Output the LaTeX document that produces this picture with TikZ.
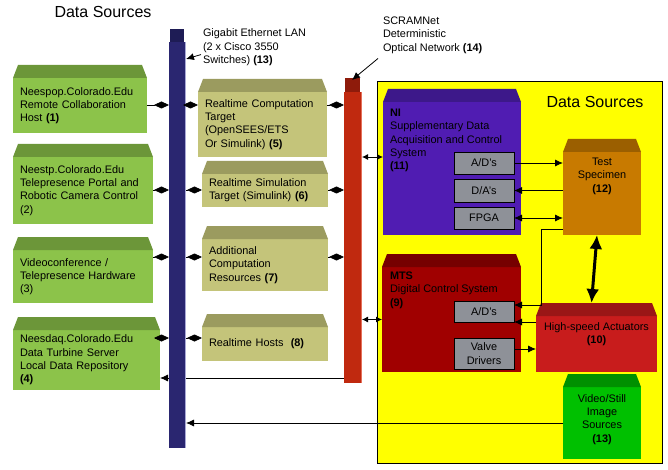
\documentclass[tikz,border=0pt]{standalone}
\usepackage{fontspec}
\setmainfont{Liberation Sans}
\usepackage{xcolor}
\usepackage{tikz}
\usetikzlibrary{arrows.meta,backgrounds}
\definecolor{HostGreen}{HTML}{8CC34A}
\definecolor{HostTop}{HTML}{6C9639}
\definecolor{SimOlive}{HTML}{C4C47A}
\definecolor{SimTop}{HTML}{9B9B5F}
\definecolor{LanBlue}{HTML}{2A2670}
\definecolor{LanTop}{HTML}{1E1C55}
\definecolor{LanEdge}{HTML}{A9A9D6}
\definecolor{ScramRed}{HTML}{C0290F}
\definecolor{ScramTop}{HTML}{8E1B0B}
\definecolor{ScramEdge}{HTML}{E5705A}
\definecolor{PanelYellow}{HTML}{FFFF00}
\definecolor{NiPurple}{HTML}{501CB2}
\definecolor{NiTop}{HTML}{3D188A}
\definecolor{ChanGray}{HTML}{8E9198}
\definecolor{SpecOrange}{HTML}{C87A00}
\definecolor{SpecTop}{HTML}{9B5F00}
\definecolor{MtsRed}{HTML}{A00000}
\definecolor{MtsTop}{HTML}{760000}
\definecolor{ActRed}{HTML}{C81C1C}
\definecolor{ActTop}{HTML}{9A1616}
\definecolor{VidGreen}{HTML}{00C000}
\definecolor{VidTop}{HTML}{009000}

% slanted top face above a box node
\newcommand{\topface}[2]{%
  \fill[#2] (#1.north west) -- ([shift={(5pt,13pt)}]#1.north west)
    -- ([shift={(-5pt,13pt)}]#1.north east) -- (#1.north east) -- cycle;}

\begin{document}
\begin{tikzpicture}[x=1pt,y=-1pt,
  txt/.style={font=\fontsize{10.9}{13.3}\selectfont},
  title/.style={font=\fontsize{16}{19}\selectfont},
  box/.style={txt,anchor=north west,inner sep=0pt,outer sep=0pt},
  host/.style={box,fill=HostGreen,align=left},
  sim/.style={box,fill=SimOlive,align=left},
  bar/.style={box,minimum height=#1},
  chan/.style={txt,draw=black,fill=ChanGray,line width=0.8pt,minimum width=60pt,inner sep=0pt,outer sep=0pt,align=center},
  arr/.style={-{Latex[length=8pt,width=7pt]},line width=0.8pt},
  arr2/.style={{Latex[length=8pt,width=7pt]}-{Latex[length=8pt,width=7pt]},line width=0.8pt},
  bus/.style={{Latex[length=6pt,width=6pt]}-{Latex[length=6pt,width=6pt]},line width=0.8pt},
  big/.style={{Latex[length=14pt,width=13pt]}-{Latex[length=14pt,width=13pt]},line width=3pt},
  link/.style={-{Diamond[length=15pt,width=7pt]},line width=0.8pt}]
  \useasboundingbox (0,0) rectangle (668,470);

  \node[title] (ds-left) at (103,12) {Data Sources};

  % left hosts
  \node[host,minimum width=134pt,minimum height=55pt,text width=120pt] (host1) at (13,78)
    {Neespop.Colorado.Edu\\Remote Collaboration\\Host \textbf{(1)}};
  \node[host,minimum width=140pt,minimum height=67pt,text width=126pt] (host2) at (13,157)
    {Neestp.Colorado.Edu\\Telepresence Portal and\\Robotic Camera Control\\(2)};
  \node[host,minimum width=140pt,minimum height=53pt,text width=126pt] (host3) at (13,250)
    {Videoconference /\\Telepresence Hardware\\(3)};
  \node[host,minimum width=147pt,minimum height=60pt,text width=133pt] (host4) at (13,330)
    {Neesdaq.Colorado.Edu\\Data Turbine Server\\Local Data Repository\\\textbf{(4)}};
  \topface{host1}{HostTop}
  \topface{host2}{HostTop}
  \topface{host3}{HostTop}
  \topface{host4}{HostTop}

  % realtime machines
  \node[sim,minimum width=129pt,minimum height=65pt,text width=115pt] (rt5) at (198,92)
    {Realtime Computation\\Target\\(OpenSEES/ETS\\Or Simulink) \textbf{(5)}};
  \node[sim,minimum width=126pt,minimum height=33pt,text width=112pt] (rt6) at (202,174)
    {Realtime Simulation\\Target (Simulink) \textbf{(6)}};
  \node[sim,minimum width=126pt,minimum height=52pt,text width=112pt] (rt7) at (202,239)
    {Additional\\Computation\\Resources \textbf{(7)}};
  \node[sim,minimum width=126pt,minimum height=34pt,text width=112pt] (rt8) at (202,327)
    {Realtime Hosts\ \ \textbf{(8)}};
  \topface{rt5}{SimTop}
  \topface{rt6}{SimTop}
  \topface{rt7}{SimTop}
  \topface{rt8}{SimTop}

  % yellow panel
  \node[box,draw=black,fill=PanelYellow,line width=0.8pt,minimum width=285pt,minimum height=382pt] (panel) at (377,81) {};
  \node[title] (ds-right) at (595,102) {Data Sources};

  \node[box,fill=NiPurple,minimum width=138pt,minimum height=133pt] (ni) at (383,102) {};
  \topface{ni}{NiTop}
  \node[box,align=left] (ni-text) at (390,109)
    {\textbf{NI}\\Supplementary Data\\Acquisition and Control\\System\\\textbf{(11)}};
  \node[chan,minimum height=22pt] (ad1) at (484,163) {A/D's};
  \node[chan,minimum height=23pt] (da1) at (484,190.5) {D/A's};
  \node[chan,minimum height=22pt] (fpga) at (484,218) {FPGA};

  \node[box,fill=SpecOrange,minimum width=78pt,minimum height=83pt] (test) at (563,152) {};
  \topface{test}{SpecTop}
  \node[txt,anchor=north,inner sep=0pt,align=center] (test-text) at ([yshift=-6pt]test.north)
    {Test\\Specimen\\\textbf{(12)}};

  \node[box,fill=MtsRed,minimum width=139pt,minimum height=105pt] (mts) at (382,267) {};
  \topface{mts}{MtsTop}
  \node[box,align=left] (mts-text) at (390,272)
    {\textbf{MTS}\\Digital Control System\\\textbf{(9)}};
  \node[chan,minimum height=21pt] (ad2) at (484,311.5) {A/D's};
  \node[chan,minimum height=31pt] (valve) at (484,353.5) {Valve\\Drivers};

  \node[box,fill=ActRed,minimum width=121pt,minimum height=56pt] (act) at (536,316) {};
  \topface{act}{ActTop}
  \node[txt,anchor=north,inner sep=0pt,align=center] (act-text) at ([yshift=-6pt]act.north)
    {High-speed Actuators\\\textbf{(10)}};

  \node[box,fill=VidGreen,minimum width=78pt,minimum height=72pt] (vid) at (563,387) {};
  \topface{vid}{VidTop}
  \node[txt,anchor=north,inner sep=0pt,align=center] (vid-text) at ([yshift=-7pt]vid.north)
    {Video/Still\\Image\\Sources\\\textbf{(13)}};

  % links inside the panel
  \draw[arr] (ad1.east) -- (ad1.east -| test.west);
  \draw[arr] (da1.east -| test.west) -- (da1.east);
  \draw[arr2] (fpga.east) -- (fpga.east -| test.west);
  \coordinate (bend) at (541,305);
  \draw[arr] ([yshift=6pt]test.south west) -| (bend) -- (bend -| ad2.east);
  \draw[arr] (ad2.south east -| act.west) -- (ad2.south east);
  \coordinate (vrow) at (0,349);
  \draw[arr] (valve.east |- vrow) -- (act.west |- vrow);
  \draw[big] ([xshift=-5pt]test.south) -- ([shift={(-5pt,13pt)}]act.north);

  % the two networks
  \node[bar=406pt,fill=LanBlue,minimum width=17pt] (lan) at (169,42) {};
  \fill[LanTop] ([xshift=1pt]lan.north west) rectangle ([shift={(-2pt,13pt)}]lan.north east);
  \draw[LanEdge,line width=1.2pt] ([xshift=-0.6pt]lan.north east) -- ([xshift=-0.6pt]lan.south east);
  \node[bar=291pt,fill=ScramRed,minimum width=18pt] (scram) at (344,92) {};
  \fill[ScramTop] ([xshift=1pt]scram.north west) rectangle ([shift={(-2pt,14pt)}]scram.north east);
  \draw[ScramEdge,line width=1.2pt] ([xshift=-0.6pt]scram.north east) -- ([xshift=-0.6pt]scram.south east);

  % long feeds back to the left
  \coordinate (reprow) at (0,378);
  \begin{scope}[on background layer]
    \draw[arr] (scram.west |- reprow) -- (host4.east |- reprow);
  \end{scope}
  \draw[arr] (vid.west) -- (vid.west -| lan.east);

  \coordinate (row1) at (0,105);
  \coordinate (row2) at (0,190);
  \coordinate (row3) at (0,257);
  \coordinate (row4) at (0,338);
  \foreach \h/\r/\n in {host1/rt5/row1,host2/rt6/row2,host3/rt7/row3,host4/rt8/row4}{
    \draw[link] (\h.east |- \n) -- (lan.west |- \n);
    \draw[link] (lan.east |- \n) -- (\r.west |- \n);
  }
  \foreach \r/\n in {rt5/row1,rt6/row2,rt7/row3}
    \draw[link] (\r.east |- \n) -- (scram.west |- \n);
  \coordinate (nirow) at (0,157);
  \draw[bus] (scram.east |- nirow) -- (ni.west |- nirow);
  \draw[bus] (mts.west -| scram.east) -- (mts.west);

  % network labels
  \node[box,align=left,font=\fontsize{10.9}{13.5}\selectfont] (gig) at (203,29)
    {Gigabit Ethernet LAN\\(2 x Cisco 3550\\Switches) \textbf{(13)}};
  \draw[arr] ([shift={(-2pt,-7pt)}]gig.west) -- ([yshift=-17pt]lan.north east);
  \node[box,align=left] (scr) at (383,17)
    {SCRAMNet\\Deterministic\\Optical Network \textbf{(14)}};
  \draw[arr] ([shift={(-5pt,-5pt)}]scr.south west) -- ([shift={(-1pt,12pt)}]scram.north);
\end{tikzpicture}
\end{document}
